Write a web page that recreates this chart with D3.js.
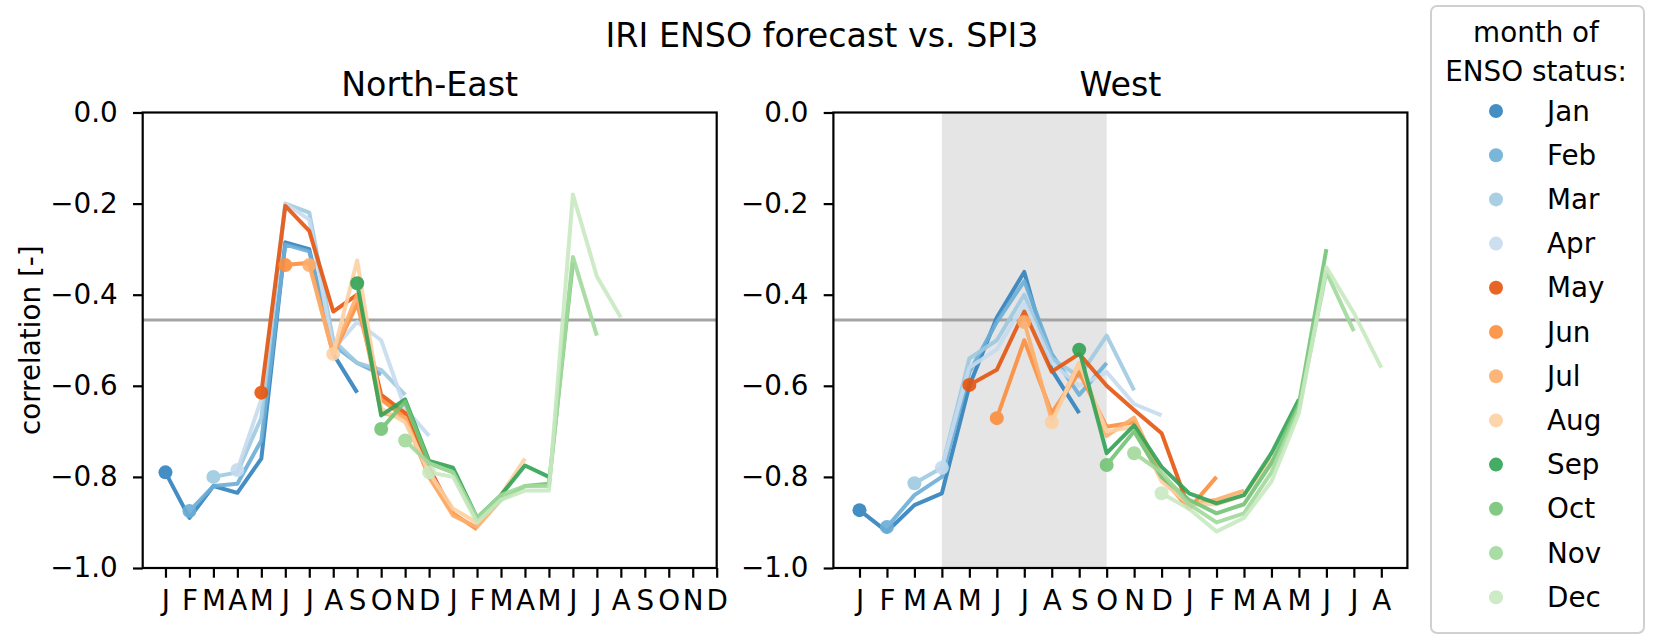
<!DOCTYPE html>
<html>
<head>
<meta charset="utf-8">
<script src="https://cdn.jsdelivr.net/npm/d3@7"></script>
<style>
  body { margin: 0; background: #fff; }
  svg text { font-family: "DejaVu Sans", sans-serif; fill: #000; }
</style>
</head>
<body>
<div id="chart"></div>
<script>
// month of ENSO status -> one series each, 9 leads starting at that month
const monthNames = ["Jan", "Feb", "Mar", "Apr", "May", "Jun", "Jul", "Aug", "Sep", "Oct", "Nov", "Dec"];
const tickLetters = ["J", "F", "M", "A", "M", "J", "J", "A", "S", "O", "N", "D",
                     "J", "F", "M", "A", "M", "J", "J", "A", "S", "O", "N", "D"];
const yTicks = [0, -0.2, -0.4, -0.6, -0.8, -1.0];

const northEast = [
  [-0.79, -0.89, -0.82, -0.835, -0.76, -0.285, -0.30, -0.53, -0.615],
  [-0.875, -0.82, -0.815, -0.72, -0.29, -0.305, -0.51, -0.55, -0.575],
  [-0.80, -0.79, -0.67, -0.20, -0.22, -0.50, -0.55, -0.565, -0.62],
  [-0.785, -0.63, -0.20, -0.235, -0.52, -0.46, -0.50, -0.65, -0.71],
  [-0.615, -0.205, -0.26, -0.437, -0.40, -0.62, -0.66, -0.78, -0.88],
  [-0.335, -0.33, -0.53, -0.42, -0.63, -0.67, -0.80, -0.88, -0.915],
  [-0.335, -0.53, -0.40, -0.66, -0.67, -0.80, -0.885, -0.91, -0.85],
  [-0.53, -0.325, -0.65, -0.68, -0.79, -0.87, -0.90, -0.84, -0.76],
  [-0.375, -0.665, -0.63, -0.765, -0.78, -0.89, -0.84, -0.775, -0.80],
  [-0.695, -0.635, -0.77, -0.79, -0.895, -0.85, -0.82, -0.815, -0.33],
  [-0.72, -0.77, -0.79, -0.89, -0.84, -0.82, -0.82, -0.317, -0.49],
  [-0.79, -0.80, -0.90, -0.85, -0.83, -0.83, -0.18, -0.36, -0.45]
];

const west = [
  [-0.873, -0.92, -0.862, -0.836, -0.60, -0.45, -0.35, -0.565, -0.66],
  [-0.91, -0.84, -0.80, -0.57, -0.46, -0.37, -0.53, -0.62, -0.55],
  [-0.814, -0.78, -0.54, -0.50, -0.40, -0.54, -0.58, -0.49, -0.61],
  [-0.78, -0.56, -0.52, -0.42, -0.55, -0.60, -0.57, -0.64, -0.665],
  [-0.598, -0.565, -0.437, -0.569, -0.53, -0.60, -0.653, -0.704, -0.87],
  [-0.671, -0.50, -0.66, -0.57, -0.69, -0.68, -0.80, -0.87, -0.80],
  [-0.46, -0.675, -0.55, -0.71, -0.67, -0.80, -0.86, -0.85, -0.83],
  [-0.68, -0.55, -0.70, -0.69, -0.81, -0.86, -0.86, -0.84, -0.76],
  [-0.521, -0.748, -0.687, -0.778, -0.836, -0.858, -0.84, -0.748, -0.63],
  [-0.774, -0.70, -0.80, -0.85, -0.88, -0.86, -0.77, -0.64, -0.30],
  [-0.748, -0.79, -0.86, -0.90, -0.88, -0.79, -0.65, -0.35, -0.48],
  [-0.836, -0.87, -0.92, -0.89, -0.81, -0.66, -0.34, -0.44, -0.56]
];

const threshold = -0.4555;      // grey reference line
const westShade = [3, 9];       // shaded months in the West panel (A..O)

// tab20c, first three hue groups
const palette = ["#3182bd", "#6baed6", "#9ecae1", "#c6dbef",
                 "#e6550d", "#fd8d3c", "#fdae6b", "#fdd0a2",
                 "#31a354", "#74c476", "#a1d99b", "#c7e9c0"];

const width = 1653, height = 637;
const fontTick = 27.8, fontTitle = 33.3;
const tickLen = 9.7;

const svg = d3.select("#chart").append("svg")
  .attr("width", width)
  .attr("height", height);

svg.append("rect").attr("width", width).attr("height", height).attr("fill", "#fff");

const y = d3.scaleLinear().domain([-1, 0]).range([568, 112.5]);

const panels = [
  { title: "North-East", values: northEast, left: 142.7, xMax: 23, nTicks: 24, ylabel: "correlation [-]" },
  { title: "West", values: west, left: 833.4, xMax: 19.95, nTicks: 20, shade: westShade }
];
const panelWidth = 574;

panels.forEach(function(p) {
  const x = d3.scaleLinear().domain([-0.95, p.xMax]).range([p.left, p.left + panelWidth]);
  const g = svg.append("g");

  if (p.shade) {
    g.append("rect")
      .attr("x", x(p.shade[0]))
      .attr("y", y(0))
      .attr("width", x(p.shade[1]) - x(p.shade[0]))
      .attr("height", y(-1) - y(0))
      .attr("fill", "#e5e5e5");
  }

  g.append("line")
    .attr("x1", p.left).attr("x2", p.left + panelWidth)
    .attr("y1", y(threshold)).attr("y2", y(threshold))
    .attr("stroke", "#a3a3a3")
    .attr("stroke-width", 3.2);

  const line = d3.line()
    .x(function(d) { return x(d.i); })
    .y(function(d) { return y(d.v); });

  const series = p.values.map(function(vals, k) {
    return { k: k, pts: vals.map(function(v, j) { return { i: k + j, v: v }; }) };
  });

  const sg = g.selectAll("g.series").data(series).enter()
    .append("g").attr("class", "series")
    .attr("opacity", 0.9);

  sg.append("path")
    .attr("d", function(d) { return line(d.pts); })
    .attr("fill", "none")
    .attr("stroke", function(d) { return palette[d.k]; })
    .attr("stroke-width", 4)
    .attr("stroke-linejoin", "round");

  sg.append("circle")
    .attr("cx", function(d) { return x(d.pts[0].i); })
    .attr("cy", function(d) { return y(d.pts[0].v); })
    .attr("r", 7)
    .attr("fill", function(d) { return palette[d.k]; });

  // frame
  g.append("rect")
    .attr("x", p.left).attr("y", y(0))
    .attr("width", panelWidth).attr("height", y(-1) - y(0))
    .attr("fill", "none")
    .attr("stroke", "#000")
    .attr("stroke-width", 2.2);

  const xAxis = d3.axisBottom(x)
    .tickValues(d3.range(p.nTicks))
    .tickFormat(function(i) { return tickLetters[i]; })
    .tickSize(tickLen)
    .tickPadding(9.7);

  const gx = g.append("g").attr("transform", "translate(0," + y(-1) + ")").call(xAxis);
  gx.select(".domain").remove();
  gx.selectAll(".tick line").attr("stroke-width", 2.2);
  gx.selectAll(".tick text")
    .attr("font-size", fontTick)
    .attr("font-family", "DejaVu Sans")
    .attr("dy", "0.83em");

  const yAxis = d3.axisLeft(y)
    .tickValues(yTicks)
    .tickFormat(d3.format(".1f"))
    .tickSize(tickLen)
    .tickPadding(15.2);

  const gy = g.append("g").attr("transform", "translate(" + p.left + ",0)").call(yAxis);
  gy.select(".domain").remove();
  gy.selectAll(".tick line").attr("stroke-width", 2.2);
  gy.selectAll(".tick text")
    .attr("font-size", fontTick)
    .attr("font-family", "DejaVu Sans");

  g.append("text")
    .attr("x", p.left + panelWidth / 2)
    .attr("y", 96)
    .attr("text-anchor", "middle")
    .attr("font-size", fontTitle)
    .text(p.title);

  if (p.ylabel) {
    g.append("text")
      .attr("transform", "translate(30," + ((y(0) + y(-1)) / 2) + ") rotate(-90)")
      .attr("text-anchor", "middle")
      .attr("dominant-baseline", "central")
      .attr("font-size", fontTick)
      .text(p.ylabel);
  }
});

svg.append("text")
  .attr("x", 822)
  .attr("y", 47)
  .attr("text-anchor", "middle")
  .attr("font-size", fontTitle)
  .text("IRI ENSO forecast vs. SPI3");

// legend
const lg = svg.append("g");
lg.append("rect")
  .attr("x", 1431).attr("y", 6)
  .attr("width", 213).attr("height", 627)
  .attr("rx", 6)
  .attr("fill", "#fff")
  .attr("stroke", "#d0d0d0")
  .attr("stroke-width", 2);

lg.selectAll("text.ltitle").data(["month of", "ENSO status:"]).enter()
  .append("text")
  .attr("class", "ltitle")
  .attr("x", 1536)
  .attr("y", function(d, i) { return 32 + i * 39; })
  .attr("text-anchor", "middle")
  .attr("dominant-baseline", "central")
  .attr("font-size", fontTick)
  .text(function(d) { return d; });

const entry = lg.selectAll("g.entry").data(monthNames).enter()
  .append("g").attr("class", "entry")
  .attr("transform", function(d, i) { return "translate(0," + (111 + i * 44.2) + ")"; });

entry.append("circle")
  .attr("cx", 1496).attr("cy", 0).attr("r", 7)
  .attr("opacity", 0.9)
  .attr("fill", function(d, i) { return palette[i]; });

entry.append("text")
  .attr("x", 1547)
  .attr("y", 0)
  .attr("dominant-baseline", "central")
  .attr("font-size", fontTick)
  .text(function(d) { return d; });
</script>
</body>
</html>
